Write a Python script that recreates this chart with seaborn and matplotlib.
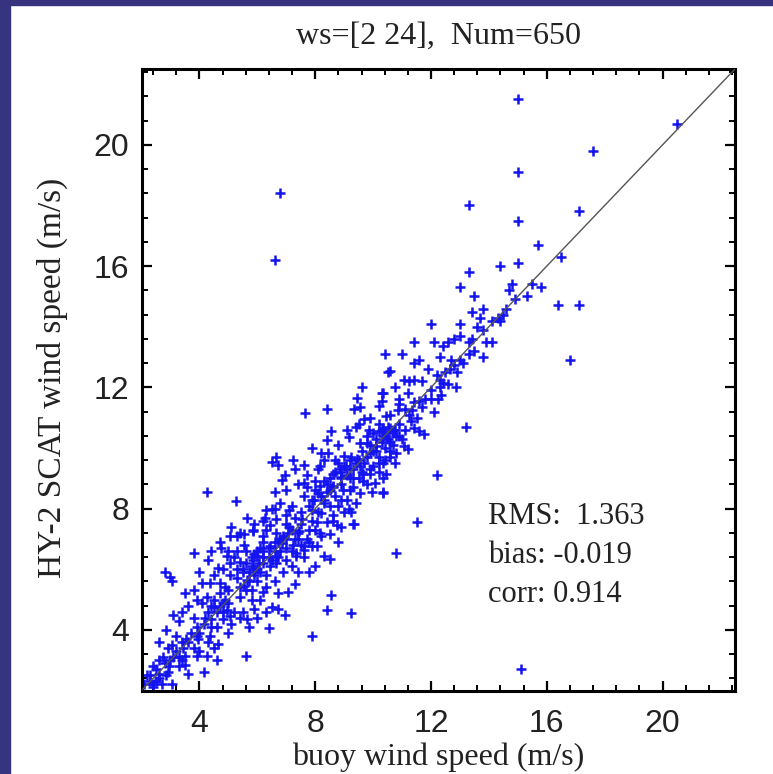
import matplotlib
matplotlib.use("Agg")
import matplotlib.pyplot as plt
import seaborn as sns
import numpy as np
import pandas as pd
from matplotlib.ticker import FixedLocator
from matplotlib.patches import Rectangle

# ---- data (buoy wind speed, HY-2 SCAT wind speed) ----
outlier_bx = [15.0, 17.6, 15.0, 13.3, 17.1, 15.0, 15.7, 16.5, 13.3, 14.4, 15.0, 13.0, 13.5, 14.8, 14.7,
              15.5, 15.8, 15.3, 16.4, 17.1, 13.4, 13.8, 13.7, 14.6, 14.3, 14.4, 12.0, 13.0, 13.6, 20.5,
              16.8, 13.2, 15.1, 6.8, 6.6]
outlier_sy = [21.5, 19.8, 19.1, 18.0, 17.8, 17.5, 16.7, 16.3, 15.8, 16.0, 16.1, 15.3, 15.0, 15.4, 15.2,
              15.4, 15.3, 15.0, 14.7, 14.7, 14.5, 14.6, 14.3, 14.6, 14.3, 14.2, 14.1, 14.1, 14.0, 20.7,
              12.9, 10.7, 2.7, 18.4, 16.2]

upper_bx = [11.4, 12.1, 12.4, 12.6, 12.8, 13.0, 13.3, 13.4, 13.9, 14.1, 10.4, 11.0, 11.4, 13.8, 13.3,
            13.0, 12.8, 12.65, 10.6, 12.9, 12.3, 12.4, 11.05, 11.25, 11.4, 11.7, 12.6, 12.85, 12.3, 10.75,
            10.35, 12.35, 12.25, 12.0, 11.6, 11.4, 10.9, 11.1, 10.85, 11.35, 11.7, 12.1, 10.45, 11.25, 10.35,
            10.6, 10.75, 10.7, 10.45, 11.4, 11.6, 11.75, 11.05, 11.2, 10.8, 10.6, 10.35, 10.75, 10.45, 12.2,
            10.35, 11.5, 10.8, 10.5, 9.6, 10.3, 9.45, 10.3, 9.55, 7.65, 8.4, 9.35, 9.7, 9.4, 9.85,
            10.0, 10.2, 10.35, 8.55, 8.4, 9.15, 9.55, 9.8, 10.1]
upper_sy = [13.5, 13.5, 13.35, 13.5, 13.6, 13.7, 13.5, 13.6, 13.5, 13.5, 13.1, 13.1, 12.8, 13.0, 13.1,
            12.9, 12.75, 12.6, 12.55, 12.5, 12.25, 12.15, 12.25, 12.2, 12.25, 12.2, 12.1, 12.0, 12.0, 12.0,
            11.8, 11.75, 11.6, 11.6, 11.55, 11.5, 11.45, 11.3, 11.25, 11.25, 11.35, 11.2, 11.05, 11.1, 10.65,
            10.65, 10.6, 10.5, 10.4, 10.65, 10.55, 10.45, 10.05, 9.95, 9.85, 9.7, 9.5, 9.5, 9.15, 9.1,
            8.55, 7.55, 6.55, 12.5, 12.0, 11.8, 11.65, 11.55, 11.35, 11.15, 11.3, 11.3, 10.95, 10.7, 10.6,
            10.5, 10.55, 10.4, 10.55, 10.25, 10.35, 10.15, 10.15, 10.05]

core_bx = [7.9, 8.2, 8.45, 9.0, 9.25, 9.45, 9.9, 10.2, 10.4, 6.5, 6.65, 6.7, 7.25, 7.6, 7.3,
           8.15, 8.8, 8.85, 9.05, 9.2, 9.55, 9.65, 9.9, 10.2, 10.35, 8.6, 8.9, 9.3, 9.65, 10.05,
           6.85, 6.95, 7.6, 8.0, 8.15, 8.4, 8.6, 8.95, 9.2, 9.55, 9.95, 10.35, 6.6, 4.25, 5.25,
           7.6, 7.95, 8.3, 8.5, 8.8, 9.15, 7.2, 6.3, 7.1, 7.9, 8.2, 8.6, 9.25, 9.3, 5.65,
           6.25, 6.65, 7.0, 7.55, 8.05, 8.4, 8.75, 5.85, 6.3, 6.65, 7.05, 7.4, 7.8, 8.15, 8.5,
           5.05, 5.3, 5.55, 4.75, 5.55, 6.1, 6.45, 6.85, 7.25, 7.6, 7.9, 3.8, 4.95, 6.0, 6.65,
           7.35, 8.3, 9.35, 6.45, 6.2, 5.85, 7.45]
core_sy = [10.0, 9.85, 9.85, 9.75, 9.7, 9.65, 9.85, 9.7, 9.6, 9.55, 9.7, 9.45, 9.6, 9.45, 9.3,
           9.4, 9.5, 9.3, 9.4, 9.3, 9.4, 9.15, 9.15, 9.2, 9.0, 9.15, 9.05, 9.0, 8.9, 8.85,
           8.95, 9.1, 8.85, 8.9, 8.75, 8.55, 8.75, 8.6, 8.6, 8.5, 8.55, 8.5, 8.55, 8.55, 8.25,
           8.4, 8.3, 8.3, 8.1, 8.1, 8.0, 8.1, 7.95, 7.95, 7.95, 7.85, 7.8, 7.9, 7.5, 7.7,
           7.7, 7.65, 7.5, 7.65, 7.55, 7.55, 7.45, 7.3, 7.3, 7.2, 7.2, 7.2, 7.3, 7.2, 7.15,
           7.1, 7.1, 7.15, 6.7, 6.8, 6.7, 6.75, 6.85, 6.8, 6.75, 6.75, 6.55, 6.45, 6.45, 6.45,
           6.45, 6.45, 7.5, 7.45, 7.1, 7.25, 7.25]

lower_bx = [2.8, 3.0, 3.05, 7.8, 8.55, 8.4, 9.25, 7.9, 5.6, 6.4, 6.95, 6.7, 6.5, 7.05, 6.7,
            6.2, 5.65, 5.7, 5.4, 5.65, 5.55, 5.05, 4.7, 4.35, 4.1, 4.65, 5.05, 5.4, 5.85, 6.2,
            6.45, 6.65, 7.0, 7.35, 7.6, 8.05, 8.5, 6.05, 4.25, 3.9, 3.6, 3.4, 4.5, 4.7, 4.95,
            5.05, 4.8, 4.4, 4.15, 3.9, 2.85, 3.2, 3.55, 3.95, 4.35, 4.65, 2.6, 3.05, 3.45, 2.75,
            3.1, 3.5, 3.9, 4.25, 4.6, 3.5, 2.95, 2.6, 2.85, 3.6, 4.15, 2.3, 2.1, 2.4, 3.05]
lower_sy = [5.9, 5.75, 5.6, 5.9, 5.15, 4.65, 4.55, 3.8, 3.15, 4.05, 4.5, 4.7, 4.75, 5.25, 5.2,
            5.25, 4.35, 4.1, 5.1, 5.65, 5.45, 5.8, 5.55, 5.55, 5.55, 6.05, 6.2, 6.25, 6.3, 6.6,
            6.1, 6.2, 6.3, 6.55, 6.65, 6.75, 6.35, 6.2, 5.1, 5.0, 4.8, 4.6, 4.75, 4.8, 4.65,
            4.45, 4.35, 4.35, 4.2, 4.1, 4.0, 3.8, 3.7, 3.7, 3.8, 3.55, 3.6, 3.5, 3.4, 3.1,
            3.1, 3.15, 3.15, 3.15, 3.0, 2.85, 2.8, 2.55, 2.5, 2.55, 2.6, 2.5, 2.2, 2.1, 2.2]

dense_hi_bx = [8.1, 8.3, 8.5, 8.7, 8.9, 9.1, 9.3, 9.5, 9.7, 9.9, 10.1, 10.3, 10.5, 10.7, 10.9,
               11.1, 10.2, 10.4, 10.6, 9.8, 9.6, 9.4, 9.2, 8.9, 8.7, 8.5, 8.3, 8.0, 7.8, 7.7,
               7.5, 7.3, 7.1, 7.9, 8.1, 8.9, 9.1, 9.4, 9.8, 10.0, 10.2, 10.6, 10.8, 11.0, 11.3,
               11.5, 11.8, 12.0, 12.2, 12.5, 12.7, 13.1, 13.5, 13.8, 14.1, 14.5, 14.9, 11.9, 11.6, 12.3,
               11.2, 10.9, 10.6, 10.2, 9.9, 9.5, 9.1, 8.8, 8.3, 8.1, 7.7, 7.4, 7.0, 6.8, 6.5]
dense_hi_sy = [8.5, 8.9, 9.0, 8.4, 8.8, 9.1, 8.7, 9.0, 9.5, 9.3, 9.9, 10.2, 10.3, 10.1, 10.8,
               10.6, 10.8, 10.0, 9.9, 10.4, 9.9, 9.5, 9.6, 9.2, 9.6, 8.6, 8.2, 8.6, 8.1, 8.7,
               7.9, 7.7, 7.4, 7.6, 7.9, 8.3, 8.3, 8.2, 8.8, 9.4, 9.5, 10.2, 10.4, 10.3, 10.9,
               11.0, 11.6, 11.9, 12.4, 12.5, 12.9, 12.8, 13.2, 13.9, 14.2, 14.4, 14.9, 12.6, 12.9, 13.0,
               11.8, 11.6, 11.1, 11.4, 11.0, 10.8, 10.6, 10.1, 9.6, 9.3, 9.1, 8.8, 8.6, 8.2, 8.0]

dense_lo_bx = [7.0, 6.8, 6.6, 6.4, 6.2, 6.0, 5.8, 5.9, 5.7, 5.5, 5.3, 5.2, 5.0, 4.9, 4.7,
               4.5, 4.3, 4.1, 3.8, 3.7, 3.4, 3.2, 3.0, 2.8, 2.5, 2.3, 2.7, 3.3, 3.8, 4.0,
               4.4, 4.8, 5.2, 5.5, 5.9, 6.1, 6.3, 6.0, 5.8, 5.0, 4.9, 5.9, 6.2, 6.6, 6.9,
               7.2, 7.3, 7.5, 7.7, 8.0, 8.2, 7.8, 7.6, 7.2, 6.9, 6.6, 6.3, 6.7, 5.6, 5.3,
               5.0, 4.8, 4.5, 4.3, 4.0, 3.8, 3.5, 3.3, 3.1, 2.9, 2.6, 2.4, 2.2, 2.5, 3.4,
               4.0, 4.3, 4.6, 5.1, 5.4, 6.0, 6.3, 5.0, 4.5, 7.4, 8.0, 7.3, 8.6, 8.9, 9.0,
               8.8, 7.0, 6.6, 6.2, 5.9, 5.4, 5.1, 4.7, 4.4]
dense_lo_sy = [7.0, 6.6, 6.9, 6.4, 6.9, 6.0, 6.1, 5.8, 5.9, 6.0, 5.7, 6.4, 5.3, 5.0, 5.2,
               5.0, 4.6, 4.9, 4.4, 3.9, 3.6, 3.3, 3.0, 2.9, 2.7, 2.3, 2.2, 2.8, 3.4, 3.9,
               4.1, 4.6, 4.6, 4.6, 4.7, 5.0, 5.4, 5.6, 5.3, 4.9, 5.4, 6.5, 6.2, 6.6, 7.1,
               6.6, 7.0, 7.5, 7.0, 7.3, 7.1, 6.9, 6.4, 6.1, 5.9, 5.6, 5.8, 6.9, 6.6, 6.6,
               6.6, 6.0, 5.8, 6.3, 5.9, 5.3, 5.2, 4.3, 4.5, 3.4, 3.0, 2.8, 2.5, 2.3, 3.0,
               3.3, 3.6, 4.1, 4.2, 4.4, 4.4, 4.6, 3.9, 3.4, 5.9, 6.1, 5.5, 7.6, 7.4, 7.9,
               6.9, 7.8, 8.0, 7.6, 7.5, 7.2, 7.4, 6.9, 6.6]

cluster_bx = [5.5, 5.6, 5.7, 5.8, 5.9, 6.0, 6.1, 6.2, 5.4, 5.6, 5.8, 5.3, 6.4, 6.5, 6.7,
              6.8, 7.0, 7.2, 7.4, 7.5, 8.6, 8.7, 8.9, 9.0, 9.2, 9.3, 9.5, 9.6, 9.8, 9.9,
              10.0, 10.1, 10.3, 10.5, 10.7, 10.9, 10.4, 8.4, 8.2, 7.9, 4.6, 4.8, 4.4, 4.2, 3.9,
              3.6, 3.3, 2.9, 2.6, 2.4]
cluster_sy = [5.9, 6.2, 5.6, 6.4, 6.0, 6.6, 5.9, 6.4, 5.4, 5.3, 5.0, 6.0, 6.7, 6.3, 6.4,
              7.0, 6.7, 7.3, 7.0, 6.8, 8.7, 9.2, 9.0, 9.4, 9.0, 9.3, 9.6, 9.2, 9.7, 10.1,
              9.9, 10.3, 10.6, 10.7, 10.6, 10.4, 10.5, 8.8, 8.4, 8.3, 4.6, 4.9, 4.8, 4.4, 3.8,
              3.6, 3.1, 2.6, 2.4, 2.2]

axis_lim = [2, 22.5]
major_ticks = [4, 8, 12, 16, 20]
title_text = "ws=[2 24],  Num=650"
xlabel_text = "buoy wind speed (m/s)"
ylabel_text = "HY-2 SCAT wind speed (m/s)"
stats_lines = ["RMS:  1.363", "bias: -0.019", "corr: 0.914"]

df = pd.DataFrame({
    "buoy": outlier_bx + upper_bx + core_bx + lower_bx + dense_hi_bx + dense_lo_bx + cluster_bx,
    "scat": outlier_sy + upper_sy + core_sy + lower_sy + dense_hi_sy + dense_lo_sy + cluster_sy,
})

# ---- figure ----
sns.set_style("white")
plt.rcParams["font.family"] = ["Liberation Serif", "DejaVu Serif"]
W, H = 773, 774
fig = plt.figure(figsize=(W / 100, H / 100), dpi=100)
fig.patch.set_facecolor("white")
navy = "#36347f"
fig.patches.append(Rectangle((0, 0), 10 / W, 1, transform=fig.transFigure, color=navy, zorder=0))
fig.patches.append(Rectangle((0, 1 - 5 / H), 1, 5 / H, transform=fig.transFigure, color=navy, zorder=0))

x0, x1, y0, y1 = 141.5, 735.0, 69.0, 690.5
ax = fig.add_axes([x0 / W, 1 - y1 / H, (x1 - x0) / W, (y1 - y0) / H])
ax.set_facecolor("white")

sns.scatterplot(data=df, x="buoy", y="scat", ax=ax, marker="+", s=60,
                color="#1414f0", linewidth=1.8, legend=False, zorder=2)
sns.lineplot(x=axis_lim, y=axis_lim, ax=ax, color="#555555", linewidth=1.0, zorder=3)

ax.set_xlim(axis_lim)
ax.set_ylim(axis_lim)

minor = [v for v in np.arange(2.4, 22.5, 0.8) if all(abs(v - m) > 1e-6 for m in major_ticks)]
ax.xaxis.set_major_locator(FixedLocator(major_ticks))
ax.yaxis.set_major_locator(FixedLocator(major_ticks))
ax.xaxis.set_minor_locator(FixedLocator(minor))
ax.yaxis.set_minor_locator(FixedLocator(minor))
ax.tick_params(which="both", direction="in", top=True, right=True, bottom=True, left=True,
               color="black")
ax.tick_params(which="major", length=7, width=1.6)
ax.tick_params(which="minor", length=4, width=1.4)
ax.tick_params(axis="x", which="major", pad=13)
ax.tick_params(axis="y", which="major", pad=9)
for lab in ax.get_xticklabels() + ax.get_yticklabels():
    lab.set_fontfamily("Liberation Sans")
    lab.set_fontsize(23)
    lab.set_color("#222222")
for sp in ax.spines.values():
    sp.set_visible(True)
    sp.set_color("black")
    sp.set_linewidth(2.2)

ax.set_xlabel("")
ax.set_ylabel("")
fig.text((x0 + x1) / 2 / W, 1 - 757 / H, xlabel_text, ha="center", va="center", fontsize=23, color="#222222")
fig.text(52 / W, 1 - 378 / H, ylabel_text, ha="center", va="center", rotation=90, fontsize=24, color="#222222")
fig.text((x0 + x1) / 2 / W, 1 - 36 / H, title_text, ha="center", va="center", fontsize=23, color="#222222")

for i, (line, yb) in enumerate(zip(stats_lines, [524, 563, 602])):
    ax.text((488 - x0) / (x1 - x0), (y1 - yb) / (y1 - y0), line, transform=ax.transAxes,
            ha="left", va="baseline", fontsize=22, color="#222222")

fig.savefig("out.png", dpi=100)
